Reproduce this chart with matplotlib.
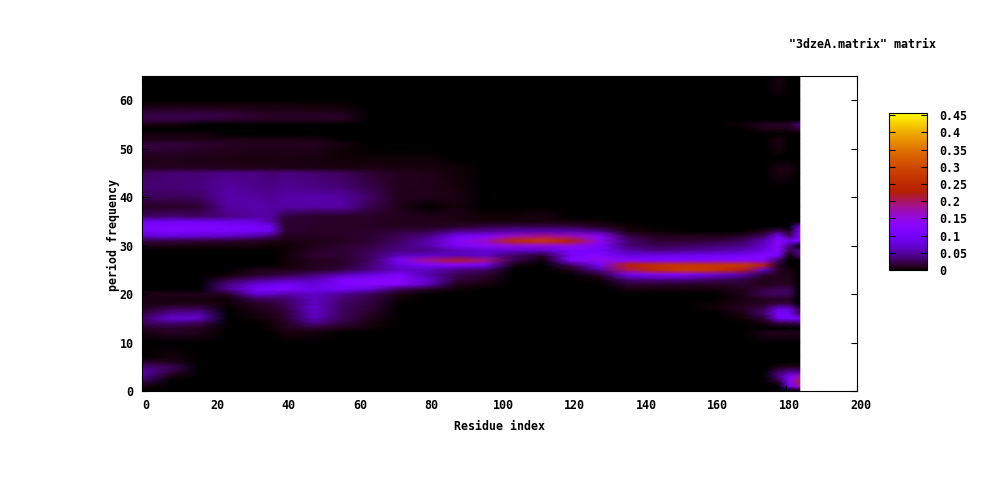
import matplotlib
matplotlib.use('Agg')
import matplotlib.pyplot as plt
import matplotlib.transforms as mtrans
import numpy as np

# residue index of each column
residues = [0, 8, 16, 24, 32, 36, 40, 48, 56, 64, 72, 80, 88, 96, 104, 112, 120, 128, 136, 144, 152, 160, 168, 174, 178, 181, 184]

# readings per period, in units of 0.001
p00 = [0] * 27
p01 = [5, 0, 0, 0, 0, 0, 0, 0, 0, 0, 0, 0, 0, 0, 0, 0, 0, 0, 0, 0, 0, 0, 0, 0, 0, 90, 170]
p02 = [25, 0, 0, 0, 0, 0, 0, 0, 0, 0, 0, 0, 0, 0, 0, 0, 0, 0, 0, 0, 0, 0, 0, 0, 15, 120, 210]
p03 = [45, 5, 0, 0, 0, 0, 0, 0, 0, 0, 0, 0, 0, 0, 0, 0, 0, 0, 0, 0, 0, 0, 0, 0, 40, 100, 170]
p04 = [55, 20, 0, 0, 0, 0, 0, 0, 0, 0, 0, 0, 0, 0, 0, 0, 0, 0, 0, 0, 0, 0, 0, 0, 30, 45, 45]
p05 = [35, 25, 0, 0, 0, 0, 0, 0, 0, 0, 0, 0, 0, 0, 0, 0, 0, 0, 0, 0, 0, 0, 0, 0, 5, 10, 10]
p06 = [15, 8, 0, 0, 0, 0, 0, 0, 0, 0, 0, 0, 0, 0, 0, 0, 0, 0, 0, 0, 0, 0, 0, 0, 0, 0, 0]
p07 = [0, 4, 0, 0, 0, 0, 0, 0, 0, 0, 0, 0, 0, 0, 0, 0, 0, 0, 0, 0, 0, 0, 0, 0, 0, 0, 0]
p10 = [0] * 27
p12 = [5, 12, 8, 0, 0, 0, 5, 5, 0, 0, 0, 0, 0, 0, 0, 0, 0, 0, 0, 0, 0, 0, 0, 8, 10, 10, 10]
p13 = [12, 15, 10, 0, 0, 3, 8, 15, 8, 2, 0, 0, 0, 0, 0, 0, 0, 0, 0, 0, 0, 0, 0, 0, 0, 0, 0]
p14 = [25, 35, 25, 0, 0, 3, 10, 40, 18, 4, 0, 0, 0, 0, 0, 0, 0, 0, 0, 0, 0, 0, 0, 5, 20, 20, 25]
p15 = [30, 70, 65, 0, 3, 6, 15, 60, 25, 8, 0, 0, 0, 0, 0, 0, 0, 0, 0, 0, 0, 0, 2, 15, 90, 100, 100]
p16 = [20, 45, 50, 0, 5, 8, 15, 65, 28, 12, 0, 0, 0, 0, 0, 0, 0, 0, 0, 0, 0, 0, 6, 35, 110, 100, 30]
p17 = [10, 25, 25, 0, 8, 12, 22, 70, 28, 15, 0, 0, 0, 0, 0, 0, 0, 0, 0, 0, 0, 3, 10, 25, 80, 70, 20]
p18 = [6, 6, 8, 2, 12, 15, 25, 65, 30, 18, 0, 0, 0, 0, 0, 0, 0, 0, 0, 0, 0, 2, 8, 12, 20, 18, 0]
p19 = [5, 5, 5, 3, 25, 28, 32, 65, 35, 20, 3, 0, 0, 0, 0, 0, 0, 0, 0, 0, 0, 0, 6, 10, 12, 10, 0]
p20 = [8, 8, 8, 12, 70, 65, 55, 65, 45, 25, 6, 0, 0, 0, 0, 0, 0, 0, 0, 0, 0, 0, 8, 25, 30, 28, 0]
p21 = [0, 0, 0, 45, 100, 108, 115, 85, 95, 70, 25, 12, 3, 0, 0, 0, 0, 0, 5, 5, 5, 5, 8, 20, 28, 25, 0]
p22 = [0, 0, 0, 40, 75, 85, 95, 75, 110, 130, 125, 60, 8, 5, 0, 0, 0, 0, 15, 15, 12, 12, 15, 8, 12, 10, 0]
p23 = [0, 0, 0, 20, 40, 45, 55, 60, 115, 125, 130, 70, 18, 10, 0, 0, 0, 3, 35, 40, 40, 30, 20, 8, 10, 8, 0]
p24 = [0, 0, 0, 3, 12, 15, 20, 35, 60, 80, 115, 55, 25, 15, 0, 0, 0, 15, 95, 110, 115, 80, 55, 15, 10, 8, 0]
p25 = [0, 0, 0, 0, 8, 8, 8, 12, 20, 40, 65, 60, 40, 30, 0, 0, 8, 50, 200, 250, 280, 270, 220, 70, 12, 5, 0]
p26 = [0, 0, 0, 0, 0, 0, 3, 10, 14, 35, 80, 110, 120, 90, 5, 0, 30, 100, 230, 265, 270, 270, 275, 220, 15, 0, 0]
p27 = [0, 0, 0, 0, 0, 0, 3, 10, 12, 30, 110, 185, 215, 190, 25, 3, 115, 145, 125, 115, 120, 125, 130, 125, 30, 0, 0]
p28 = [0, 0, 0, 0, 0, 0, 3, 15, 15, 30, 60, 70, 60, 65, 30, 15, 105, 125, 80, 85, 90, 95, 100, 120, 105, 3, 40]
p29 = [0, 0, 0, 0, 0, 0, 2, 12, 15, 25, 40, 40, 60, 70, 70, 65, 110, 100, 55, 40, 45, 50, 60, 85, 125, 25, 40]
p30 = [8, 6, 5, 5, 4, 3, 3, 8, 15, 20, 35, 55, 105, 135, 150, 150, 150, 110, 35, 25, 30, 35, 40, 70, 125, 40, 0]
p31 = [20, 20, 18, 15, 10, 8, 6, 6, 10, 15, 30, 55, 130, 165, 245, 275, 225, 140, 35, 15, 15, 18, 30, 60, 125, 100, 110]
p32 = [70, 75, 70, 65, 50, 35, 10, 10, 12, 15, 25, 40, 95, 115, 170, 190, 170, 125, 20, 10, 8, 8, 12, 30, 100, 30, 110]
p33 = [110, 112, 110, 105, 95, 85, 15, 12, 12, 14, 18, 20, 40, 45, 55, 55, 55, 40, 4, 2, 0, 0, 0, 8, 30, 10, 110]
p34 = [115, 115, 115, 110, 100, 90, 15, 12, 12, 12, 10, 10, 12, 20, 22, 22, 20, 10, 2, 0, 0, 0, 0, 0, 0, 0, 80]
p35 = [90, 90, 90, 85, 75, 50, 15, 15, 12, 12, 8, 8, 6, 5, 5, 5, 4, 3, 0, 0, 0, 0, 0, 0, 0, 0, 0]
p36 = [30, 35, 30, 40, 50, 50, 18, 12, 12, 12, 10, 8, 6, 3, 3, 6, 0, 0, 0, 0, 0, 0, 0, 0, 0, 0, 0]
p38 = [12, 12, 15, 50, 55, 50, 52, 50, 50, 22, 8, 0, 5, 0, 0, 0, 0, 0, 0, 0, 0, 0, 0, 0, 0, 0, 0]
p40 = [25, 25, 30, 55, 50, 45, 52, 55, 50, 30, 8, 8, 6, 0, 0, 0, 0, 0, 0, 0, 0, 0, 0, 0, 0, 0, 0]
p42 = [35, 35, 38, 50, 42, 40, 45, 40, 35, 22, 8, 8, 5, 0, 0, 0, 0, 0, 0, 0, 0, 0, 0, 0, 0, 0, 0]
p45 = [30, 35, 35, 42, 40, 35, 38, 35, 28, 15, 10, 8, 3, 0, 0, 0, 0, 0, 0, 0, 0, 0, 0, 0, 6, 5, 0]
p46 = [10, 10, 9, 8, 8, 8, 7, 7, 5, 6, 5, 5, 2, 0, 0, 0, 0, 0, 0, 0, 0, 0, 0, 0, 6, 6, 0]
p48 = [7, 8, 7, 6, 5, 5, 6, 5, 3, 3, 3, 3, 0, 0, 0, 0, 0, 0, 0, 0, 0, 0, 0, 0, 0, 0, 0]
p50 = [18, 15, 12, 10, 8, 8, 8, 8, 3, 1, 0, 0, 0, 0, 0, 0, 0, 0, 0, 0, 0, 0, 0, 0, 5, 0, 0]
p51 = [15, 18, 15, 12, 10, 10, 10, 10, 4, 0, 0, 0, 0, 0, 0, 0, 0, 0, 0, 0, 0, 0, 0, 0, 6, 0, 0]
p52 = [7, 7, 7, 7, 6, 6, 6, 5, 0, 0, 0, 0, 0, 0, 0, 0, 0, 0, 0, 0, 0, 0, 0, 0, 6, 0, 0]
p53 = [5, 5, 5, 0, 0, 0, 0, 0, 0, 0, 0, 0, 0, 0, 0, 0, 0, 0, 0, 0, 0, 0, 0, 0, 0, 0, 0]
p54 = [0, 0, 0, 0, 0, 0, 0, 0, 0, 0, 0, 0, 0, 0, 0, 0, 0, 0, 0, 0, 0, 0, 0, 6, 6, 6, 15]
p55 = [6, 5, 0, 0, 0, 0, 0, 0, 0, 0, 0, 0, 0, 0, 0, 0, 0, 0, 0, 0, 0, 0, 3, 12, 12, 14, 40]
p56 = [20, 20, 18, 14, 12, 10, 10, 10, 10, 0, 0, 0, 0, 0, 0, 0, 0, 0, 0, 0, 0, 0, 0, 0, 0, 0, 0]
p57 = [22, 22, 22, 20, 14, 12, 12, 12, 12, 0, 0, 0, 0, 0, 0, 0, 0, 0, 0, 0, 0, 0, 0, 0, 0, 0, 0]
p58 = [12, 12, 12, 10, 8, 7, 7, 7, 5, 0, 0, 0, 0, 0, 0, 0, 0, 0, 0, 0, 0, 0, 0, 0, 0, 0, 0]
p59 = [4, 4, 4, 4, 4, 4, 4, 3, 2, 0, 0, 0, 0, 0, 0, 0, 0, 0, 0, 0, 0, 0, 0, 0, 0, 0, 0]
p60 = [0] * 27
p63 = [0, 0, 0, 0, 0, 0, 0, 0, 0, 0, 0, 0, 0, 0, 0, 0, 0, 0, 0, 0, 0, 0, 0, 0, 5, 0, 0]
p65 = [0, 0, 0, 0, 0, 0, 0, 0, 0, 0, 0, 0, 0, 0, 0, 0, 0, 0, 0, 0, 0, 0, 0, 0, 5, 0, 0]

periods = [0, 1, 2, 3, 4, 5, 6, 7, 10, 12, 13, 14, 15, 16, 17, 18, 19, 20, 21, 22, 23, 24, 25, 26, 27, 28, 29, 30,
           31, 32, 33, 34, 35, 36, 38, 40, 42, 45, 46, 48, 50, 51, 52, 53, 54, 55, 56, 57, 58, 59, 60, 63, 65]
rows = [p00, p01, p02, p03, p04, p05, p06, p07, p10, p12, p13, p14, p15, p16, p17, p18, p19, p20, p21, p22, p23, p24,
        p25, p26, p27, p28, p29, p30, p31, p32, p33, p34, p35, p36, p38, p40, p42, p45, p46, p48, p50, p51, p52, p53,
        p54, p55, p56, p57, p58, p59, p60, p63, p65]

cb_max = 0.4565
cb_ticks = [0, 0.05, 0.1, 0.15, 0.2, 0.25, 0.3, 0.35, 0.4, 0.45]
cb_labels = ['0', '0.05', '0.1', '0.15', '0.2', '0.25', '0.3', '0.35', '0.4', '0.45']

W, H = 1000, 480
plt.rcParams['font.family'] = ['DejaVu Sans Mono']
plt.rcParams['font.weight'] = 'bold'
plt.rcParams['font.size'] = 8.4

fig = plt.figure(figsize=(W / 100, H / 100), dpi=100)
ax = fig.add_axes([142 / W, 1 - 391 / H, (857 - 142) / W, (391 - 76) / H])

z = np.array(rows) / 1000
mesh = ax.pcolormesh(residues, periods, z, shading='gouraud', cmap='gnuplot', vmin=0, vmax=cb_max)

ax.set_xlim(0, 200)
ax.set_ylim(0, 65)
ax.set_xticks(range(0, 201, 20))
ax.set_yticks(range(0, 61, 10))
ax.tick_params(direction='in', top=True, right=True, length=4.3, width=0.8, pad=6)
for sp in ax.spines.values():
    sp.set_linewidth(0.8)

# gnuplot puts the x labels a bit right of the tick
off = mtrans.ScaledTranslation(3.5 / 100, 0, fig.dpi_scale_trans)
for lab in ax.get_xticklabels():
    lab.set_transform(lab.get_transform() + off)

fig.text(500 / W, 1 - 427 / H, 'Residue index', ha='center', va='center')
fig.text(113 / W, 1 - 235 / H, 'period frequency', rotation=90, ha='center', va='center')
fig.text(862.5 / W, 1 - 44 / H, '"3dzeA.matrix" matrix', ha='center', va='center')

cax = fig.add_axes([889 / W, 1 - 270 / H, (927 - 889) / W, (270 - 113) / H])
cb = fig.colorbar(mesh, cax=cax)
cb.set_ticks(cb_ticks)
cb.set_ticklabels(cb_labels)
cax.tick_params(direction='in', left=True, right=True, length=4, width=0.8, pad=9)
cb.outline.set_linewidth(0.8)

fig.savefig('out.png', dpi=100)
